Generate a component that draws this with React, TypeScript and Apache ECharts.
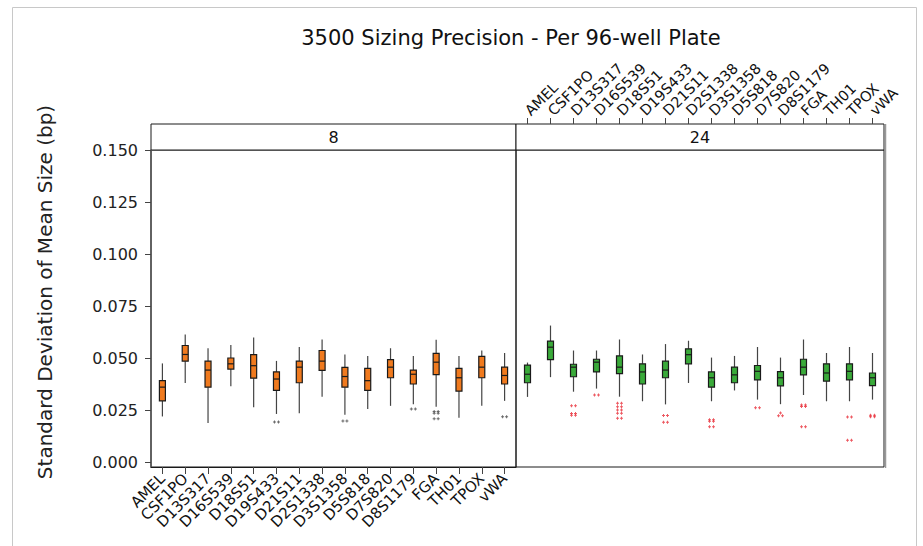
import React, { useEffect, useRef } from "react";
import * as echarts from "echarts";

// ---- data ----
const CATEGORIES = [
  "AMEL", "CSF1PO", "D13S317", "D16S539", "D18S51", "D19S433", "D21S11", "D2S1338",
  "D3S1358", "D5S818", "D7S820", "D8S1179", "FGA", "TH01", "TPOX", "vWA",
];

const PANEL_LABELS = ["8", "24"];

// [lower whisker, Q1, median, Q3, upper whisker]
const PLATE8_BOXES = [
  [0.0222, 0.0297, 0.0363, 0.0394, 0.0477],
  [0.0383, 0.0488, 0.0520, 0.0563, 0.0616],
  [0.0191, 0.0363, 0.0445, 0.0488, 0.0550],
  [0.0367, 0.0450, 0.0475, 0.0503, 0.0566],
  [0.0266, 0.0406, 0.0466, 0.0519, 0.0602],
  [0.0234, 0.0347, 0.0402, 0.0436, 0.0489],
  [0.0238, 0.0384, 0.0459, 0.0488, 0.0556],
  [0.0317, 0.0444, 0.0488, 0.0539, 0.0592],
  [0.0230, 0.0363, 0.0414, 0.0458, 0.0520],
  [0.0258, 0.0347, 0.0394, 0.0453, 0.0513],
  [0.0273, 0.0408, 0.0459, 0.0495, 0.0550],
  [0.0281, 0.0378, 0.0425, 0.0445, 0.0513],
  [0.0269, 0.0423, 0.0483, 0.0525, 0.0591],
  [0.0216, 0.0344, 0.0408, 0.0453, 0.0513],
  [0.0273, 0.0408, 0.0459, 0.0511, 0.0539],
  [0.0297, 0.0378, 0.0419, 0.0459, 0.0527],
];

// [category index, value, number of marks]
const PLATE8_OUTLIERS = [
  [5, 0.0195, 2],
  [8, 0.0200, 2],
  [11, 0.0258, 2],
  [12, 0.0246, 2],
  [12, 0.0238, 2],
  [12, 0.0211, 2],
  [15, 0.0220, 2],
];

const PLATE24_BOXES = [
  [0.0316, 0.0384, 0.0425, 0.0469, 0.0481],
  [0.0411, 0.0495, 0.0555, 0.0584, 0.0659],
  [0.0341, 0.0413, 0.0459, 0.0473, 0.0539],
  [0.0356, 0.0436, 0.0483, 0.0497, 0.0539],
  [0.0317, 0.0428, 0.0459, 0.0513, 0.0592],
  [0.0295, 0.0378, 0.0436, 0.0475, 0.0520],
  [0.0280, 0.0408, 0.0445, 0.0488, 0.0570],
  [0.0383, 0.0475, 0.0519, 0.0547, 0.0586],
  [0.0295, 0.0363, 0.0408, 0.0436, 0.0505],
  [0.0347, 0.0384, 0.0422, 0.0459, 0.0513],
  [0.0303, 0.0398, 0.0439, 0.0467, 0.0556],
  [0.0281, 0.0369, 0.0408, 0.0438, 0.0505],
  [0.0325, 0.0422, 0.0459, 0.0497, 0.0592],
  [0.0295, 0.0392, 0.0431, 0.0475, 0.0527],
  [0.0295, 0.0398, 0.0439, 0.0475, 0.0556],
  [0.0303, 0.0370, 0.0408, 0.0431, 0.0527],
];

const PLATE24_OUTLIERS = [
  [2, 0.0273, 2],
  [2, 0.0236, 2],
  [2, 0.0228, 2],
  [3, 0.0325, 2],
  [4, 0.0286, 2],
  [4, 0.0269, 2],
  [4, 0.0253, 2],
  [4, 0.0238, 2],
  [4, 0.0213, 2],
  [6, 0.0227, 2],
  [6, 0.0194, 2],
  [8, 0.0206, 2],
  [8, 0.0199, 2],
  [8, 0.0173, 2],
  [10, 0.0264, 2],
  [11, 0.0239, 1],
  [11, 0.0225, 2],
  [12, 0.0277, 2],
  [12, 0.0270, 2],
  [12, 0.0173, 2],
  [14, 0.0219, 2],
  [14, 0.0108, 2],
  [15, 0.0228, 2],
  [15, 0.0221, 2],
];

const Y_TICKS = [0, 0.025, 0.05, 0.075, 0.1, 0.125, 0.15];

const TITLE = "3500 Sizing Precision - Per 96-well Plate";
const Y_NAME = "Standard Deviation of Mean Size (bp)";

// ---- styling ----
const FONT = "'DejaVu Sans', 'Liberation Sans', Arial, sans-serif";
const ORANGE = "#f07a1e";
const GREEN = "#3aaa3a";
const PLUS = "path://M1,0H2V1H3V2H2V3H1V2H0V1H1Z";
const PLUS_PAIR = "path://M1,0H2V1H3V2H2V3H1V2H0V1H1Z M5,0H6V1H7V2H6V3H5V2H4V1H5Z";

const Y_MIN = -0.0021;
const Y_MAX = 0.1503;

function boxRenderer(fill: string) {
  return (params: any, api: any) => {
    const x = api.value(0);
    const lo = api.coord([x, api.value(1)]);
    const q1 = api.coord([x, api.value(2)]);
    const md = api.coord([x, api.value(3)]);
    const q3 = api.coord([x, api.value(4)]);
    const hi = api.coord([x, api.value(5)]);
    const hw = 3;
    const stroke = "#1a1a1a";
    return {
      type: "group",
      children: [
        { type: "line", shape: { x1: lo[0], y1: lo[1], x2: q1[0], y2: q1[1] }, style: { stroke: "#444", lineWidth: 1.2 } },
        { type: "line", shape: { x1: q3[0], y1: q3[1], x2: hi[0], y2: hi[1] }, style: { stroke: "#444", lineWidth: 1.2 } },
        { type: "rect", shape: { x: q3[0] - hw, y: q3[1], width: hw * 2, height: q1[1] - q3[1] }, style: { fill, stroke, lineWidth: 1.2 } },
        { type: "line", shape: { x1: md[0] - hw, y1: md[1], x2: md[0] + hw, y2: md[1] }, style: { stroke, lineWidth: 1.2 } },
      ],
    };
  };
}

function outlierSeries(data: number[][], axisIndex: number, color: string) {
  return {
    type: "scatter",
    xAxisIndex: axisIndex,
    yAxisIndex: axisIndex,
    data: data.map((d) => ({
      value: [d[0], d[1]],
      symbol: d[2] === 2 ? PLUS_PAIR : PLUS,
      symbolSize: d[2] === 2 ? [7, 3] : [3, 3],
    })),
    itemStyle: { color },
    silent: true,
    z: 3,
  };
}

export default function App() {
  const ref = useRef<HTMLDivElement>(null);

  useEffect(() => {
    document.body.style.margin = "0";
    if (!ref.current) return;
    const chart = echarts.init(ref.current, null, { renderer: "svg" });

    const option: any = {
      animation: false,
      backgroundColor: "#fff",
      textStyle: { fontFamily: FONT },
      grid: [
        { left: 151, top: 150, width: 365, height: 317, show: true, borderColor: "#1a1a1a", borderWidth: 1, backgroundColor: "transparent" },
        { left: 516, top: 150, width: 368, height: 317, show: true, borderColor: "#1a1a1a", borderWidth: 1, backgroundColor: "transparent" },
      ],
      xAxis: [
        {
          type: "category",
          gridIndex: 0,
          position: "bottom",
          data: CATEGORIES,
          boundaryGap: true,
          axisLine: { show: true, onZero: false, lineStyle: { color: "#1a1a1a", width: 1 } },
          axisTick: { show: true, alignWithLabel: true, length: 7, lineStyle: { color: "#444" } },
          axisLabel: { interval: 0, rotate: 45, fontSize: 15, color: "#111", fontFamily: FONT, margin: 9 },
          splitLine: { show: false },
        },
        {
          type: "category",
          gridIndex: 1,
          position: "top",
          offset: 26,
          data: CATEGORIES,
          boundaryGap: true,
          axisLine: { show: false, onZero: false },
          axisTick: { show: true, alignWithLabel: true, length: 6, lineStyle: { color: "#444" } },
          axisLabel: { interval: 0, rotate: -45, fontSize: 14.5, color: "#111", fontFamily: FONT, margin: 11 },
          splitLine: { show: false },
        },
      ],
      yAxis: [
        {
          type: "value",
          gridIndex: 0,
          min: Y_MIN,
          max: Y_MAX,
          axisLine: { show: true, onZero: false, lineStyle: { color: "#555", width: 1.5 } },
          axisTick: { show: true, length: 6, customValues: Y_TICKS, lineStyle: { color: "#444" } },
          axisLabel: {
            customValues: Y_TICKS,
            formatter: (v: number) => v.toFixed(3),
            fontSize: 16,
            color: "#222",
            fontFamily: FONT,
            margin: 13,
          },
          splitLine: { show: false },
        },
        {
          type: "value",
          gridIndex: 1,
          min: Y_MIN,
          max: Y_MAX,
          show: false,
          axisLine: { onZero: false },
          splitLine: { show: false },
        },
      ],
      series: [
        {
          type: "custom",
          xAxisIndex: 0,
          yAxisIndex: 0,
          renderItem: boxRenderer(ORANGE),
          encode: { x: 0, y: [1, 2, 3, 4, 5] },
          data: PLATE8_BOXES.map((b, i) => [i, ...b]),
          z: 2,
        },
        outlierSeries(PLATE8_OUTLIERS, 0, "#444"),
        {
          type: "custom",
          xAxisIndex: 1,
          yAxisIndex: 1,
          renderItem: boxRenderer(GREEN),
          encode: { x: 0, y: [1, 2, 3, 4, 5] },
          data: PLATE24_BOXES.map((b, i) => [i, ...b]),
          z: 2,
        },
        outlierSeries(PLATE24_OUTLIERS, 1, "#e8323c"),
      ],
      graphic: [
        {
          type: "rect",
          shape: { x: 12.5, y: 7.5, width: 904, height: 600 },
          style: { fill: "none", stroke: "#c8c8c8", lineWidth: 1 },
          silent: true,
          z: -10,
        },
        {
          type: "text",
          x: 511,
          y: 38,
          style: { text: TITLE, font: `21px ${FONT}`, fill: "#111", align: "center", verticalAlign: "middle" },
        },
        {
          type: "text",
          x: 45,
          y: 292,
          rotation: Math.PI / 2,
          style: { text: Y_NAME, font: `20px ${FONT}`, fill: "#222", align: "center", verticalAlign: "middle" },
        },
        {
          type: "rect",
          shape: { x: 151, y: 124, width: 365, height: 26 },
          style: { fill: "#fff", stroke: "#1a1a1a", lineWidth: 1 },
        },
        {
          type: "text",
          x: 333.5,
          y: 137.5,
          style: { text: PANEL_LABELS[0], font: `16px ${FONT}`, fill: "#111", align: "center", verticalAlign: "middle" },
        },
        {
          type: "rect",
          shape: { x: 516, y: 124, width: 368, height: 26 },
          style: { fill: "#fff", stroke: "#1a1a1a", lineWidth: 1 },
        },
        {
          type: "text",
          x: 700,
          y: 137.5,
          style: { text: PANEL_LABELS[1], font: `16px ${FONT}`, fill: "#111", align: "center", verticalAlign: "middle" },
        },
        {
          type: "line",
          shape: { x1: 885.5, y1: 124, x2: 885.5, y2: 468 },
          style: { stroke: "#999", lineWidth: 1.5 },
        },
      ],
    };

    chart.setOption(option);
    return () => chart.dispose();
  }, []);

  return <div ref={ref} style={{ width: 923, height: 546 }} />;
}
